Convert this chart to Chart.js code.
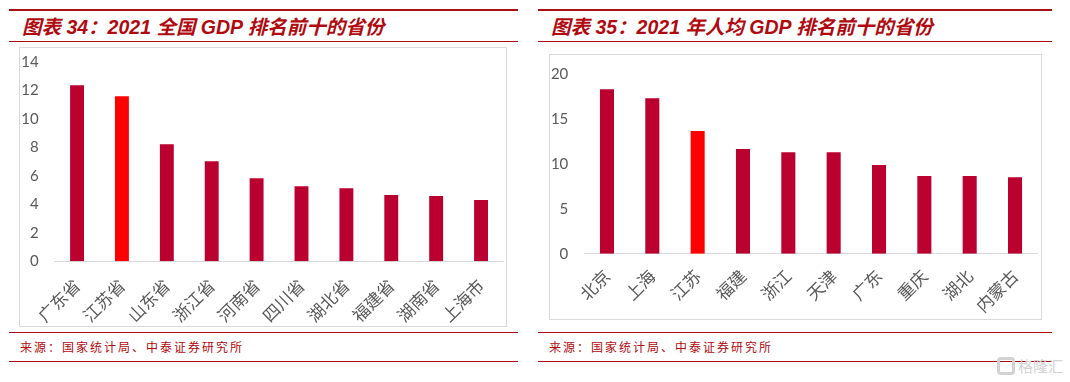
<!DOCTYPE html>
<html><head><meta charset="utf-8">
<script src="https://cdn.jsdelivr.net/npm/chart.js@4"></script>
<style>
html,body{margin:0;padding:0;background:#fff;width:1070px;height:382px;overflow:hidden}
.rule{position:absolute;background:#A80F14}
.title{position:absolute;font:italic bold 19.5px "Liberation Sans","Noto Sans CJK SC",sans-serif;color:#B00A10;white-space:pre;line-height:22px}
.source{position:absolute;font:12px "Noto Sans CJK SC",sans-serif;color:#B00A10;letter-spacing:2px;white-space:pre;line-height:16px}
.box{position:absolute;border:1px solid #D9D9D9;box-sizing:border-box}
.box canvas{display:block}
.mark{position:absolute;left:1018px;top:356px;font:15px "Noto Sans CJK SC",sans-serif;color:#D2D2D2;white-space:pre;line-height:20px}
.logo{position:absolute;left:997px;top:357px;width:18px;height:18px;border:3px solid #D2D2D2;border-radius:4px;box-sizing:border-box}
</style></head><body>
<div class="rule" style="left:9px;top:9px;width:509px;height:2px"></div>
<div class="rule" style="left:9px;top:41px;width:509px;height:1px"></div>
<div class="rule" style="left:9px;top:332px;width:509px;height:1px"></div>
<div class="rule" style="left:9px;top:361px;width:509px;height:1px"></div>
<div class="rule" style="left:538px;top:9px;width:514px;height:2px"></div>
<div class="rule" style="left:538px;top:41px;width:514px;height:1px"></div>
<div class="rule" style="left:538px;top:332px;width:514px;height:1px"></div>
<div class="rule" style="left:538px;top:361px;width:514px;height:1px"></div>
<div class="title" style="left:22px;top:16px">图表 34：2021 全国 GDP 排名前十的省份</div>
<div class="title" style="left:551px;top:16px">图表 35：2021 年人均 GDP 排名前十的省份</div>
<div class="source" style="left:20px;top:339px">来源：国家统计局、中泰证券研究所</div>
<div class="source" style="left:549px;top:339px">来源：国家统计局、中泰证券研究所</div>
<div class="box" style="left:19px;top:47px;width:488px;height:280px"><canvas id="c1"></canvas></div>
<div class="box" style="left:549px;top:54px;width:493px;height:266px"><canvas id="c2"></canvas></div>
<div class="logo"></div>
<div class="mark">格隆汇</div>
<script>
const leftCategories=["广东省","江苏省","山东省","浙江省","河南省","四川省","湖北省","福建省","湖南省","上海市"];
const leftValues=[12.36,11.6,8.23,7.03,5.84,5.28,5.14,4.65,4.58,4.3];
const leftTicks=[0,2,4,6,8,10,12,14];
const rightCategories=["北京","上海","江苏","福建","浙江","天津","广东","重庆","湖北","内蒙古"];
const rightValues=[18.3,17.3,13.65,11.65,11.3,11.3,9.87,8.65,8.65,8.5];
const rightTicks=[0,5,10,15,20];
const BAR="#BA002F",HI="#FF0000";
function make(id,w,h,cats,vals,ticks,hiIndex,yW,xH,padTop,padRight,xPad){
  const cv=document.getElementById(id);
  cv.style.width=w+"px";cv.style.height=h+"px";
  new Chart(cv,{type:"bar",
    data:{labels:cats,datasets:[{data:vals,backgroundColor:vals.map((_,i)=>i===hiIndex?HI:BAR),barPercentage:0.31,categoryPercentage:1}]},
    options:{responsive:false,animation:false,devicePixelRatio:1,
      layout:{padding:{top:padTop,right:padRight,left:0,bottom:0}},
      plugins:{legend:{display:false},tooltip:{enabled:false},title:{display:false}},
      scales:{
        x:{grid:{display:false,drawTicks:false},border:{display:true,color:"#D9D9D9"},
           afterFit(s){s.height=xH;s.paddingLeft=0;s.paddingRight=0;},
           ticks:{autoSkip:false,maxRotation:45,minRotation:45,padding:xPad,color:"#595959",font:{family:'"Noto Sans CJK SC",sans-serif',size:17}}},
        y:{min:ticks[0],max:ticks[ticks.length-1],grid:{display:false,drawTicks:false},border:{display:false},
           afterBuildTicks(s){s.ticks=ticks.map(v=>({value:v}));},
           afterFit(s){s.width=yW;s.paddingTop=0;s.paddingBottom=0;},
           ticks:{padding:16,color:"#595959",font:{family:'Lato,sans-serif',size:15}}}
      }}});
}
make("c1",486,278,leftCategories,leftValues,leftTicks,1,34.6,64.7,14,2.5,14);
make("c2",491,264,rightCategories,rightValues,rightTicks,2,34.3,65.3,19,3.3,12);
</script>
</body></html>
